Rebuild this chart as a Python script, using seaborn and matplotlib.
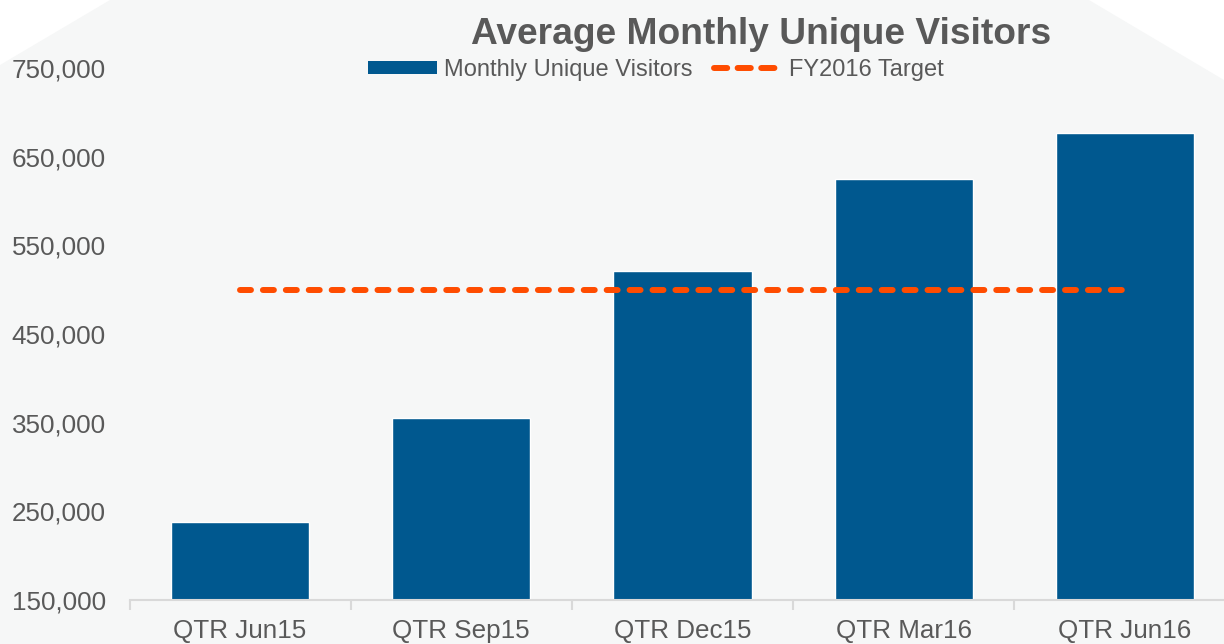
import numpy as np
import pandas as pd
import matplotlib.pyplot as plt
import seaborn as sns
from matplotlib.patches import Patch, Polygon
from matplotlib.lines import Line2D
from matplotlib.ticker import FuncFormatter, FixedLocator

# Données
quarters = ["QTR Jun15", "QTR Sep15", "QTR Dec15", "QTR Mar16", "QTR Jun16"]
visitors = [238000, 355000, 521000, 625000, 677000]
target = [500000, 500000, 500000, 500000, 500000]
y_ticks = [150000, 250000, 350000, 450000, 550000, 650000, 750000]

bar_color = "#00588f"
target_color = "#ff4c00"
text_color = "#595959"
bg_color = "#f6f7f7"

sns.set_theme(style="white")
plt.rcParams["font.family"] = ["Liberation Sans", "DejaVu Sans"]
plt.rcParams["lines.scale_dashes"] = False

W, H = 1224, 644
fig = plt.figure(figsize=(W / 100, H / 100), dpi=100, facecolor="white")

# fond gris clair avec les coins blancs en haut
bg = Polygon([(110 / W, 1), (1089 / W, 1), (1, 1 - 80 / H), (1, 0), (0, 0), (0, 1 - 65 / H)],
             closed=True, transform=fig.transFigure, facecolor=bg_color, edgecolor="none", zorder=0)
fig.patches.append(bg)

ax = fig.add_axes([129.5 / W, 1 - 600 / H, 1106 / W, 532 / H])
ax.set_facecolor("none")
ax.set_zorder(1)

df = pd.DataFrame({"quarter": quarters, "visitors": visitors})
sns.barplot(data=df, x="quarter", y="visitors", color=bar_color, width=0.625,
            saturation=1, ax=ax, zorder=2)

dash = (0, (7.9, 8.6))
sns.lineplot(x=np.arange(len(quarters)), y=target, color=target_color, linewidth=4.3,
             linestyle=dash, ax=ax, zorder=3)
for l in ax.lines:
    l.set_dash_capstyle("round")

ax.set_xlim(-0.5, len(quarters) - 0.5)
ax.set_ylim(150000, 750000)
ax.set_yticks(y_ticks)
ax.yaxis.set_major_formatter(FuncFormatter(lambda v, p: f"{int(v):,}"))
ax.tick_params(axis="y", length=0, pad=17, labelsize=18.7, labelcolor=text_color)
ax.tick_params(axis="x", length=0, pad=14, labelsize=18.7, labelcolor=text_color)
ax.set_xlabel("")
ax.set_ylabel("")

# petites graduations entre les catégories (style Excel)
ax.xaxis.set_minor_locator(FixedLocator(np.arange(-0.5, len(quarters), 1.0)))
ax.tick_params(axis="x", which="minor", bottom=True, length=7, width=1.5,
               color="#d9d9d9", direction="out")

for s in ["top", "right", "left"]:
    ax.spines[s].set_visible(False)
ax.spines["bottom"].set_color("#d9d9d9")
ax.spines["bottom"].set_linewidth(1.5)
ax.spines["bottom"].set_zorder(4)

fig.text(761 / W, 1 - 34 / H, "Average Monthly Unique Visitors", ha="center", va="center",
         fontsize=26.7, fontweight="bold", color=text_color)

handles = [Patch(facecolor=bar_color, edgecolor="none", label="Monthly Unique Visitors"),
           Line2D([0], [0], color=target_color, linewidth=4.3, linestyle=(0, (9.5, 7.5)),
                  dash_capstyle="round", label="FY2016 Target")]
leg = fig.legend(handles=handles, loc="center", bbox_to_anchor=(656 / W, 1 - 70 / H), ncol=2,
                 frameon=False, fontsize=17, handlelength=2.9, handleheight=0.5,
                 handletextpad=0.3, columnspacing=0.9, borderpad=0, borderaxespad=0)
for t in leg.get_texts():
    t.set_color(text_color)

fig.savefig("out.png", dpi=100, facecolor=fig.get_facecolor())
